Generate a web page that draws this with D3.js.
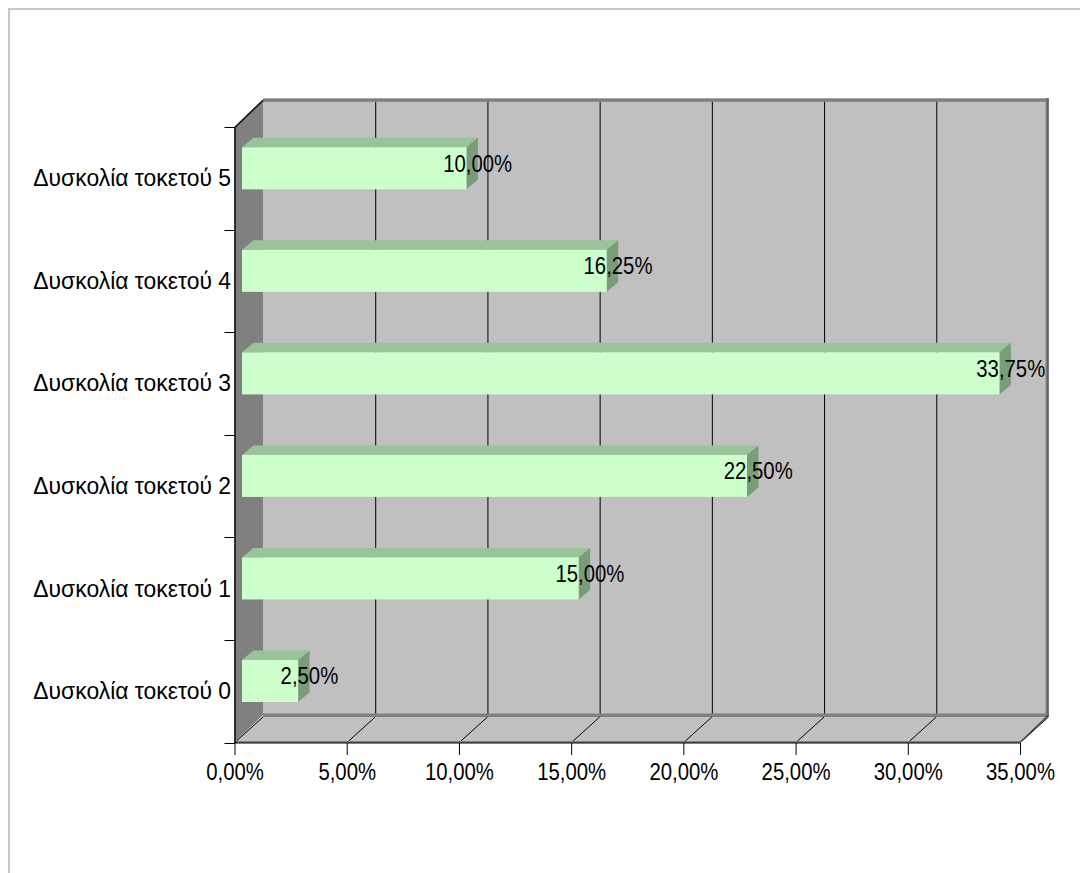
<!DOCTYPE html>
<html>
<head>
<meta charset="utf-8">
<script src="https://cdn.jsdelivr.net/npm/d3@7"></script>
<style>
  html, body { margin: 0; padding: 0; background: #ffffff; }
  svg { display: block; }
  text { font-family: "Liberation Sans", Arial, sans-serif; fill: #000; }
</style>
</head>
<body>
<svg id="chart" width="1080" height="873"></svg>
<script>
const categories = ["Δυσκολία τοκετού 0", "Δυσκολία τοκετού 1", "Δυσκολία τοκετού 2",
                    "Δυσκολία τοκετού 3", "Δυσκολία τοκετού 4", "Δυσκολία τοκετού 5"];
const values = [2.5, 15.0, 22.5, 33.75, 16.25, 10.0];
const tickValues = [0, 5, 10, 15, 20, 25, 30, 35];
const tickLabels = ["0,00%", "5,00%", "10,00%", "15,00%", "20,00%", "25,00%", "30,00%", "35,00%"];

const fmt = v => v.toFixed(2).replace(".", ",") + "%";

const svg = d3.select("#chart");
const FS = 24.5;
const SX_NUM = 0.83;   // horizontal condensation of numeric labels
const SX_CAT = 0.935;  // horizontal condensation of category labels

// geometry of the 3D box
const front = { left: 234.5, right: 1020, top: 127.3, bottom: 742.5 };
const depth = { dx: 28.5, dy: -27.5 };

const x = d3.scaleLinear().domain([0, 35]).range([front.left, front.right]);
const y = d3.scaleBand().domain(categories.slice().reverse()).range([front.top, front.bottom]).paddingInner(0).paddingOuter(0);
const bw = y.bandwidth();

// outer border (only top/left visible)
svg.append("rect").attr("x", 0).attr("y", 0).attr("width", 1080).attr("height", 873).attr("fill", "#fff");
svg.append("rect").attr("x", 9).attr("y", 9).attr("width", 1200).attr("height", 1000)
  .attr("fill", "none").attr("stroke", "#c8c8c8").attr("stroke-width", 2);

const bx0 = front.left + depth.dx, bx1 = front.right + depth.dx;
const by0 = front.top + depth.dy, by1 = front.bottom + depth.dy;

// back wall
svg.append("rect").attr("x", bx0).attr("y", by0).attr("width", bx1 - bx0).attr("height", by1 - by0)
  .attr("fill", "#c0c0c0");
// left wall
svg.append("polygon")
  .attr("points", [[front.left, front.top], [bx0, by0], [bx0, by1], [front.left, front.bottom]].map(p => p.join(",")).join(" "))
  .attr("fill", "#808080");
// floor
svg.append("polygon")
  .attr("points", [[front.left, front.bottom], [bx0, by1], [bx1, by1], [front.right, front.bottom]].map(p => p.join(",")).join(" "))
  .attr("fill", "#c0c0c0");

// wall thickness strips
svg.append("rect").attr("x", bx0).attr("y", by0 - 1.5).attr("width", bx1 - bx0).attr("height", 3.5).attr("fill", "#808080");
svg.append("rect").attr("x", bx1 - 3).attr("y", by0 - 1.5).attr("width", 3).attr("height", by1 - by0 + 3).attr("fill", "#808080");
svg.append("line").attr("x1", bx1 - 0.5).attr("x2", bx1 - 0.5).attr("y1", by0 - 1.5).attr("y2", by1 + 1.5)
  .attr("stroke", "#404040").attr("stroke-width", 1);
svg.append("rect").attr("x", bx0).attr("y", by1 - 1.5).attr("width", bx1 - bx0).attr("height", 3.5).attr("fill", "#808080");
svg.append("rect").attr("x", front.left).attr("y", front.bottom - 1.5).attr("width", front.right - front.left).attr("height", 2).attr("fill", "#808080");

// back wall gridlines
svg.append("g").selectAll("line").data(tickValues.slice(1, -1)).join("line")
  .attr("x1", d => x(d) + depth.dx + 0.5).attr("x2", d => x(d) + depth.dx + 0.5)
  .attr("y1", by0 + 2).attr("y2", by1 - 1.5)
  .attr("stroke", "#000").attr("stroke-width", 1);
// floor gridlines (diagonals)
svg.append("g").selectAll("line").data(tickValues).join("line")
  .attr("x1", d => x(d) + 2).attr("y1", front.bottom - 1.5)
  .attr("x2", d => x(d) + depth.dx).attr("y2", by1 + 2)
  .attr("stroke", "#000").attr("stroke-width", 1);
// right floor edge
svg.append("line").attr("x1", front.right).attr("y1", front.bottom).attr("x2", bx1).attr("y2", by1)
  .attr("stroke", "#404040").attr("stroke-width", 1.2);

// left wall outline (front and top edges)
svg.append("path")
  .attr("d", `M${bx0},${by0 + 0.5} L${front.left + 0.5},${front.top} L${front.left + 0.5},${front.bottom + 1}`)
  .attr("fill", "none").attr("stroke", "#202020").attr("stroke-width", 1.8);

// bars
const off = { dx: 7.5 };
const bd = { dx: 11.5, dy: -9.5 };
const bars = svg.append("g").selectAll("g").data(categories.map((c, i) => ({ c, v: values[i] }))).join("g");
const geom = d => {
  const x0 = x(0) + off.dx, x1 = x(d.v) + off.dx;
  const t = y(d.c) + bw * 0.195, b = y(d.c) + bw * 0.605;
  return { x0, x1, t, b };
};
bars.append("polygon")
  .attr("points", d => { const g = geom(d); return [[g.x0, g.t], [g.x0 + bd.dx, g.t + bd.dy], [g.x1 + bd.dx, g.t + bd.dy], [g.x1, g.t]].map(p => p.join(",")).join(" "); })
  .attr("fill", "#99c399");
bars.append("polygon")
  .attr("points", d => { const g = geom(d); return [[g.x1, g.t], [g.x1 + bd.dx, g.t + bd.dy], [g.x1 + bd.dx, g.b + bd.dy], [g.x1, g.b]].map(p => p.join(",")).join(" "); })
  .attr("fill", "#789d78");
bars.append("rect")
  .attr("x", d => geom(d).x0).attr("y", d => geom(d).t)
  .attr("width", d => geom(d).x1 - geom(d).x0).attr("height", d => geom(d).b - geom(d).t)
  .attr("fill", "#ccffcc");
bars.append("text")
  .attr("transform", d => { const g = geom(d); return `translate(${g.x1 + 11.3},${(g.t + g.b) / 2 + 3.5}) scale(${SX_NUM},1)`; })
  .attr("text-anchor", "middle")
  .attr("font-size", FS)
  .text(d => fmt(d.v));

// bottom axis
const xAxis = d3.axisBottom(x).tickValues(tickValues).tickFormat((d, i) => tickLabels[i]).tickSize(12).tickPadding(8);
const gx = svg.append("g").attr("transform", `translate(0,${front.bottom + 0.5})`).call(xAxis);
gx.select(".domain").attr("stroke", "#000").attr("d", `M${front.left},0H${front.right}`);
gx.selectAll(".tick line").attr("stroke", "#000");
gx.selectAll(".tick text").attr("font-size", FS).attr("font-family", null).attr("fill", "#000")
  .attr("dy", "0.71em").attr("transform", `scale(${SX_NUM},1)`);

// left axis: ticks at band boundaries, labels at centers
const yBounds = categories.map(c => y(c)).concat([front.bottom]);
svg.append("g").selectAll("line").data(yBounds).join("line")
  .attr("x1", front.left - 10).attr("x2", front.left)
  .attr("y1", d => Math.round(d) + 0.5).attr("y2", d => Math.round(d) + 0.5)
  .attr("stroke", "#000").attr("stroke-width", 1);
const yAxis = d3.axisLeft(y).tickSize(0).tickPadding(3);
const gy = svg.append("g").attr("transform", `translate(${front.left},0)`).call(yAxis);
gy.select(".domain").remove();
gy.selectAll(".tick text").attr("font-size", FS).attr("font-family", null).attr("fill", "#000")
  .attr("dy", "0.32em").attr("x", -3.5 / SX_CAT).attr("transform", `scale(${SX_CAT},1)`);
</script>
</body>
</html>
